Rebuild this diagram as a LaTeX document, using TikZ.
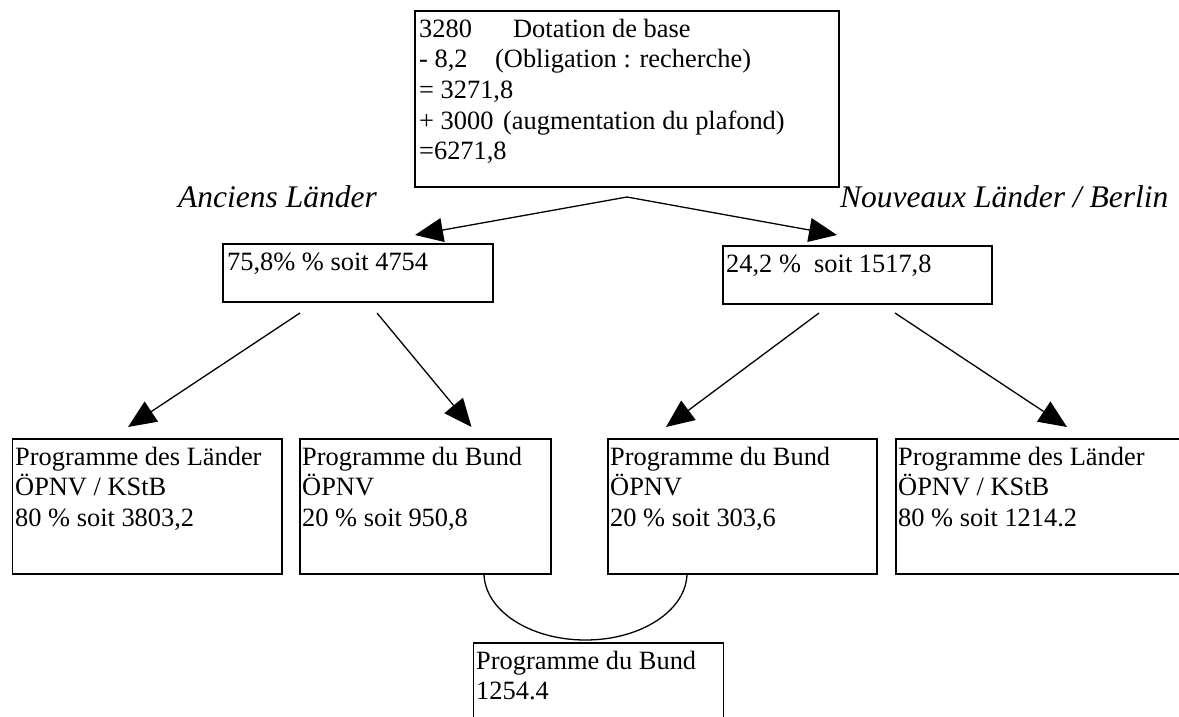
\documentclass[tikz,border=0pt]{standalone}
\usepackage{fontspec}
\setmainfont{Liberation Serif}
\usetikzlibrary{arrows.meta}
\begin{document}
\begin{tikzpicture}[x=1pt,y=-1pt,
  box/.style={draw, line width=1.6pt, rectangle, inner sep=0pt, anchor=north west},
  txt/.style={font=\fontsize{26.4}{30.7}\selectfont, anchor=base west, inner sep=0pt},
  lbl/.style={font=\itshape\fontsize{31.5}{36}\selectfont, anchor=base west, inner sep=0pt},
  link/.style={line width=1.3pt, -{Triangle[length=28pt,width=24pt]}},
  curve/.style={line width=1.3pt}]
\useasboundingbox (0,0) rectangle (1179,716);
\clip (0,0) rectangle (1179,716);
\fill[white] (0,0) rectangle (1179,716);

% top box
\node[box, minimum width=424pt, minimum height=176pt] (top) at (414,10) {};
\node[txt] (t1) at (419,37) {\makebox[94pt][l]{3280}Dotation de base};
\node[txt] (t2) at (419,67.7) {\makebox[76pt][l]{- 8,2}(Obligation : recherche)};
\node[txt] (t3) at (419,98.4) {= 3271,8};
\node[txt] (t4) at (419,129.1) {\makebox[84pt][l]{+ 3000}(augmentation du plafond)};
\node[txt] (t5) at (419,159.8) {=6271,8};

% labels
\node[lbl] (la) at (178,207) {Anciens Länder};
\node[lbl] (lb) at (840,207) {Nouveaux Länder / Berlin};

% middle boxes
\node[box, minimum width=270pt, minimum height=58pt] (a) at (222,243) {};
\node[txt] (at) at (227,270) {75,8\% \% soit 4754};
\node[box, minimum width=269pt, minimum height=58pt] (b) at (722,245) {};
\node[txt] (bt) at (726,272) {24,2 \%\ \ soit 1517,8};

% bottom boxes
\node[box, minimum width=269.5pt, minimum height=135pt] (a1) at (11.5,438) {};
\node[txt] (a1t1) at (15,465) {Programme des Länder};
\node[txt] (a1t2) at (15,495.7) {ÖPNV / KStB};
\node[txt] (a1t3) at (15,526.4) {80 \% soit 3803,2};

\node[box, minimum width=251pt, minimum height=135pt] (a2) at (299,438) {};
\node[txt] (a2t1) at (302,465) {Programme du Bund};
\node[txt] (a2t2) at (302,495.7) {ÖPNV};
\node[txt] (a2t3) at (302,526.4) {20 \% soit 950,8};

\node[box, minimum width=269pt, minimum height=135pt] (b1) at (607,438) {};
\node[txt] (b1t1) at (610,465) {Programme du Bund};
\node[txt] (b1t2) at (610,495.7) {ÖPNV};
\node[txt] (b1t3) at (610,526.4) {20 \% soit 303,6};

\node[box, minimum width=300pt, minimum height=135pt] (b2) at (895,438) {};
\node[txt] (b2t1) at (898,465) {Programme des Länder};
\node[txt] (b2t2) at (898,495.7) {ÖPNV / KStB};
\node[txt] (b2t3) at (898,526.4) {80 \% soit 1214.2};

% joint box
\node[box, minimum width=250pt, minimum height=122pt] (c) at (472.5,642) {};
\node[txt] (ct1) at (476,669) {Programme du Bund};
\node[txt] (ct2) at (476,699.7) {1254.4};

% connectors
\coordinate (apex) at (627,197);
\coordinate (aT) at (415,235);
\coordinate (bT) at (837,235);
\draw[link] (apex) -- (aT);
\draw[link] (apex) -- (bT);

\coordinate (aS1) at (300,313);
\coordinate (aS2) at (377,313);
\coordinate (bS1) at (819,313);
\coordinate (bS2) at (895,313);
\coordinate (a1T) at (128,427);
\coordinate (a2T) at (471.5,427);
\coordinate (b1T) at (666,427);
\coordinate (b2T) at (1067,427);
\draw[link] (aS1) -- (a1T);
\draw[link] (aS2) -- (a2T);
\draw[link] (bS1) -- (b1T);
\draw[link] (bS2) -- (b2T);

\coordinate (j1) at (484,573);
\coordinate (j2) at (687,573);
\draw[curve] (j1) arc[start angle=180, end angle=0, x radius=101.5, y radius=67];
\end{tikzpicture}
\end{document}
